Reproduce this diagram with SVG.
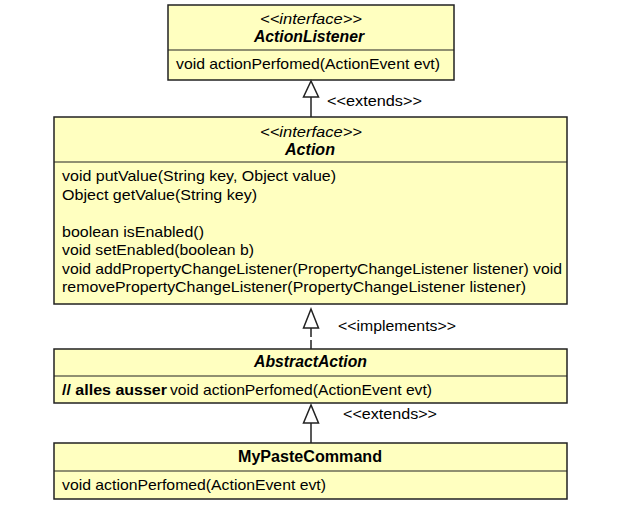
<svg xmlns="http://www.w3.org/2000/svg" width="628" height="507" viewBox="0 0 628 507">
<style>
.box{fill:#FFFFC0;stroke:#222;stroke-width:1.5}
.div{stroke:#222;stroke-width:1.2}
text{font-family:"Liberation Sans",Arial,sans-serif;font-size:15px;fill:#000}
.st{font-style:italic}
.nm{font-weight:bold;font-size:16px}
.b{font-weight:bold}
.ln{stroke:#222;stroke-width:1.5;fill:none}
.tri{fill:#fff;stroke:#222;stroke-width:1.5}
</style>
<rect width="628" height="507" fill="#fff"/>
<g id="ActionListener">
<rect class="box" x="168" y="5" width="286" height="75"/>
<line class="div" x1="168" y1="50" x2="454" y2="50"/>
<text class="st" x="260" y="24" textLength="102" lengthAdjust="spacingAndGlyphs">&lt;&lt;interface&gt;&gt;</text>
<text class="st nm" x="254" y="42" textLength="110" lengthAdjust="spacingAndGlyphs">ActionListener</text>
<text x="176" y="69" textLength="264" lengthAdjust="spacingAndGlyphs">void  actionPerfomed(ActionEvent evt)</text>
</g>
<g id="Action">
<rect class="box" x="54" y="117" width="513" height="187"/>
<line class="div" x1="54" y1="162" x2="567" y2="162"/>
<text class="st" x="260" y="137" textLength="102" lengthAdjust="spacingAndGlyphs">&lt;&lt;interface&gt;&gt;</text>
<text class="st nm" x="285" y="155" textLength="50" lengthAdjust="spacingAndGlyphs">Action</text>
<text x="62" y="181" textLength="274" lengthAdjust="spacingAndGlyphs">void  putValue(String key, Object value)</text>
<text x="62" y="199.5" textLength="195" lengthAdjust="spacingAndGlyphs">Object getValue(String key)</text>
<text x="62" y="236.5" textLength="142" lengthAdjust="spacingAndGlyphs">boolean isEnabled()</text>
<text x="62" y="255" textLength="192" lengthAdjust="spacingAndGlyphs">void  setEnabled(boolean b)</text>
<text x="62" y="273.5" textLength="500" lengthAdjust="spacingAndGlyphs">void  addPropertyChangeListener(PropertyChangeListener listener) void</text>
<text x="62" y="292" textLength="464" lengthAdjust="spacingAndGlyphs">removePropertyChangeListener(PropertyChangeListener listener)</text>
</g>
<g id="AbstractAction">
<rect class="box" x="54" y="349" width="513" height="54"/>
<line class="div" x1="54" y1="376" x2="567" y2="376"/>
<text class="st nm" x="254" y="367" textLength="113" lengthAdjust="spacingAndGlyphs">AbstractAction</text>
<text class="b" x="62" y="394.5" textLength="105" lengthAdjust="spacingAndGlyphs">// alles ausser</text>
<text x="170" y="394.5" textLength="262" lengthAdjust="spacingAndGlyphs">void actionPerfomed(ActionEvent evt)</text>
</g>
<g id="MyPasteCommand">
<rect class="box" x="54" y="443" width="513" height="56"/>
<line class="div" x1="54" y1="471" x2="567" y2="471"/>
<text class="nm" x="238" y="462" textLength="144" lengthAdjust="spacingAndGlyphs">MyPasteCommand</text>
<text x="62" y="490" textLength="264" lengthAdjust="spacingAndGlyphs">void  actionPerfomed(ActionEvent evt)</text>
</g>
<g id="connectors">
<line class="ln" x1="311" y1="97" x2="311" y2="117"/>
<polygon class="tri" points="311,81 303.5,97 318.5,97"/>
<text x="327" y="106" textLength="95" lengthAdjust="spacingAndGlyphs">&lt;&lt;extends&gt;&gt;</text>
<line class="ln" x1="311" y1="328" x2="311" y2="349" stroke-dasharray="9,3"/>
<polygon class="tri" points="311,309 303.5,328 318.5,328"/>
<text x="338" y="331" textLength="118" lengthAdjust="spacingAndGlyphs">&lt;&lt;implements&gt;&gt;</text>
<line class="ln" x1="311" y1="423" x2="311" y2="443"/>
<polygon class="tri" points="311,405 303.5,423 318.5,423"/>
<text x="343" y="419" textLength="94" lengthAdjust="spacingAndGlyphs">&lt;&lt;extends&gt;&gt;</text>
</g>
</svg>
